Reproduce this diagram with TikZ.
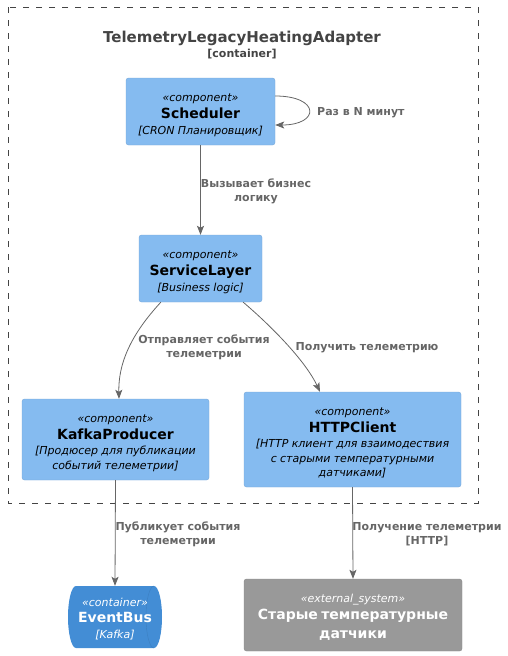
\documentclass[tikz,border=0pt]{standalone}
\usepackage{fontspec}
\setmainfont{DejaVu Sans}
\usetikzlibrary{arrows.meta}
\definecolor{compblue}{HTML}{85BBF0}
\definecolor{compline}{HTML}{78A8D8}
\definecolor{contblue}{HTML}{438DD5}
\definecolor{contline}{HTML}{3C7FC0}
\definecolor{extgray}{HTML}{999999}
\definecolor{extline}{HTML}{8A8A8A}
\definecolor{relgray}{HTML}{666666}
\definecolor{titlegray}{HTML}{444444}
\newcommand{\stereo}[1]{{\itshape\fontsize{11}{14}\selectfont\rule{0pt}{15pt}#1\par}}
\newcommand{\cname}[1]{{\bfseries\fontsize{14}{17}\selectfont #1\par}}
\newcommand{\cdesc}[1]{\vspace{1pt}{\itshape\fontsize{11}{14.5}\selectfont #1\par}}
\tikzset{
    comp/.style={draw=compline, fill=compblue, rounded corners=2.5pt, inner sep=0pt, align=center},
    extsys/.style={draw=extline, fill=extgray, text=white, rounded corners=2.5pt, inner sep=0pt, align=center},
    rel/.style={draw=relgray, line width=0.8pt, -{Stealth[length=9pt,width=7pt,inset=2pt]}},
    lbl/.style={text=relgray, font=\bfseries\fontsize{11}{14}\selectfont, align=center, inner sep=0pt},
}
\begin{document}
\begin{tikzpicture}[x=1pt,y=-1pt]
    \useasboundingbox (0,0) rectangle (507,656);
    % boundary
    \draw[titlegray, dash pattern=on 6pt off 7pt] (8,7) rectangle (478,503);
    \node[text=titlegray, font=\bfseries\fontsize{15}{18}\selectfont] (title) at (242,38) {TelemetryLegacyHeatingAdapter};
    \node[text=titlegray, font=\bfseries\fontsize{11}{14}\selectfont] (titletype) at (242,54) {[container]};
    % components
    \node[comp, minimum width=149, minimum height=67, text width=145] (sched) at (200.5,111.5)
        {\stereo{«component»}\cname{Scheduler}\cdesc{[CRON Планировщик]}};
    \node[comp, minimum width=123, minimum height=67, text width=119] (svc) at (200.5,268.5)
        {\stereo{«component»}\cname{ServiceLayer}\cdesc{[Business logic]}};
    \node[comp, minimum width=187, minimum height=81, text width=183] (kafka) at (115.5,439.5)
        {\stereo{«component»}\cname{KafkaProducer}\cdesc{[Продюсер для публикации\\ событий телеметрии]}};
    \node[comp, minimum width=217, minimum height=95, text width=213] (http) at (352.5,439.5)
        {\stereo{«component»}\cname{HTTPClient}\cdesc{[HTTP клиент для взаимодествия\\ с старыми температурными\\ датчиками]}};
    % outside
    \fill[contblue] (76,586) -- (154,586) arc (-90:90:8 and 31) -- (76,648) arc (90:270:8 and 31) -- cycle;
    \draw[contline] (154,586) arc (-90:-270:8 and 31);
    \node[minimum width=94, minimum height=62, inner sep=0pt, text=white, align=center, text width=90] (bus) at (115,617)
        {{\itshape\fontsize{11}{14}\selectfont\rule{0pt}{12pt}«container»\par}{\bfseries\fontsize{14}{16}\selectfont EventBus\par}\cdesc{[Kafka]}};
    \node[extsys, minimum width=218, minimum height=72, text width=214] (sensors) at (353,615)
        {{\itshape\fontsize{11}{14}\selectfont\rule{0pt}{13pt}«external\_system»\par}{\bfseries\fontsize{14}{17}\selectfont Старые температурные\\[2.5pt] датчики\par}};
    % relations
    \draw[rel] ([yshift=15.5pt]sched.east) .. controls +(45,0) and +(45,0) .. ([yshift=-13.5pt]sched.east);
    \node[lbl, anchor=west] (l1) at (317,113) {Раз в N минут};
    \draw[rel] (sched.south) -- (svc.north);
    \node[lbl] (l2) at (256,191) {Вызывает бизнес\\логику};
    \draw[rel] ([xshift=22pt]svc.south west) .. controls (140,325) and (118,355) .. ([xshift=3.5pt]kafka.north);
    \node[lbl] (l3) at (204,347) {Отправляет события\\телеметрии};
    \draw[rel] ([xshift=-19pt]svc.south east) .. controls (270,325) and (305,360) .. ([xshift=-32.5pt]http.north);
    \node[lbl] (l4) at (367,348) {Получить телеметрию};
    \draw[rel] (kafka.south) -- (bus.north);
    \node[lbl] (l5) at (178,534) {Публикует события\\телеметрии};
    \draw[rel] (http.south) -- (sensors.north);
    \node[lbl] (l6) at (427,534) {Получение телеметрии\\{[HTTP]}};
\end{tikzpicture}
\end{document}
